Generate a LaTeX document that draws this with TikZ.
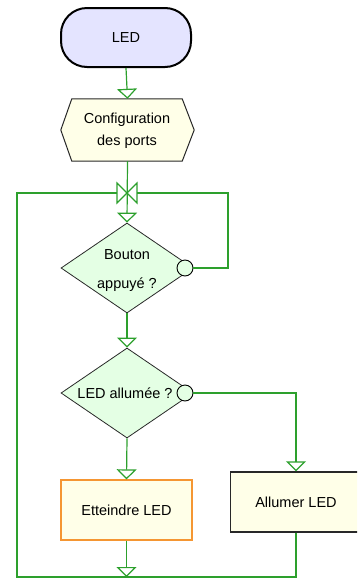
\documentclass[tikz,border=0pt]{standalone}
\usepackage{fontspec}
\setmainfont{Liberation Sans}
\usetikzlibrary{arrows.meta,shapes.geometric,calc}
\definecolor{cgreen}{RGB}{45,160,45}
\definecolor{lav}{RGB}{228,228,255}
\definecolor{cream}{RGB}{255,255,232}
\definecolor{lgreen}{RGB}{228,255,228}
\definecolor{orng}{RGB}{245,150,50}
\definecolor{dgray}{RGB}{40,40,40}
\tikzset{
  conn/.style={draw=cgreen, line width=1.2pt},
  arr/.style={conn, -{Triangle[open, width=20pt, length=10pt, line width=1.2pt]}},
  txt/.style={font=\fontsize{14.5}{22}\selectfont, align=center, inner sep=0pt},
  termbox/.style={draw=black, line width=2pt, fill=lav, rounded corners=26pt, minimum width=130pt, minimum height=59pt, inner sep=0pt, font=\fontsize{14.5}{22}\selectfont},
  dia/.style={shape=diamond, draw=dgray, line width=0.8pt, fill=lgreen, minimum width=132pt, minimum height=90pt, inner sep=0pt},
  smallc/.style={circle, draw=black, line width=0.9pt, fill=lgreen, minimum size=16pt, inner sep=0pt},
  procbox/.style={draw=dgray, line width=1.3pt, fill=cream, minimum width=131pt, minimum height=60pt, inner sep=0pt, font=\fontsize{14.5}{22}\selectfont},
}
\begin{document}
\begin{tikzpicture}[x=1pt, y=-1pt]
\useasboundingbox (0,0) rectangle (357,579);
\clip (0,0) rectangle (357,579);
% nodes
\node[termbox] (led) at (126,37.5) {LED};
\node[minimum width=133pt, minimum height=62pt, inner sep=0pt] (cfg) at (127.5,130) {};
\draw[draw=dgray, line width=1pt, fill=cream]
  ($(cfg.north west)+(11,0)$) -- ($(cfg.north east)+(-12,0)$) -- (cfg.east)
  -- ($(cfg.south east)+(-12,0)$) -- ($(cfg.south west)+(11,0)$) -- (cfg.west) -- cycle;
\node[txt] (cfgt) at (127,130.5) {Configuration\\des ports};
\node[dia] (d1) at (127,268) {};
\node[txt, font=\fontsize{14.5}{29}\selectfont] (d1t) at (127,270.5) {Bouton\\appuyé ?};
\node[smallc] (c1) at (185,268) {};
\node[dia] (d2) at (127,393) {};
\node[txt] (d2t) at (125,393) {LED allumée ?};
\node[smallc] (c2) at (185,393) {};
\node[procbox, draw=orng] (ett) at (126.5,510) {Etteindre LED};
\node[procbox] (all) at (296,502) {Allumer LED};
% junction coordinates
\coordinate (j) at (127,193);
\coordinate (jl) at (117,193);
\coordinate (jr) at (137,193);
\coordinate (rt) at (228,193);
\coordinate (lt) at (17,193);
\coordinate (lb) at (17,577);
\coordinate (rb) at (296,577);
% connectors
\draw[arr] (led.south) -- (cfg.north);
\draw[conn, fill=white] (117,183) -- (j) -- (117,203) -- cycle;
\draw[conn, fill=white] (137,183) -- (j) -- (137,203) -- cycle;
\draw[arr] (cfg.south) -- (d1.north);
\draw[conn] (c1.east) -| (rt) -- (jr);
\draw[arr] (d1.south) -- (d2.north);
\draw[arr] (c2.east) -| (all.north);
\draw[arr] (d2.south) -- (ett.north);
\draw[conn] (all.south) -- (rb) -- (lb) -- (lt) -- (jl);
\draw[arr] (ett.south) -- (ett.south |- lb);
\end{tikzpicture}
\end{document}
